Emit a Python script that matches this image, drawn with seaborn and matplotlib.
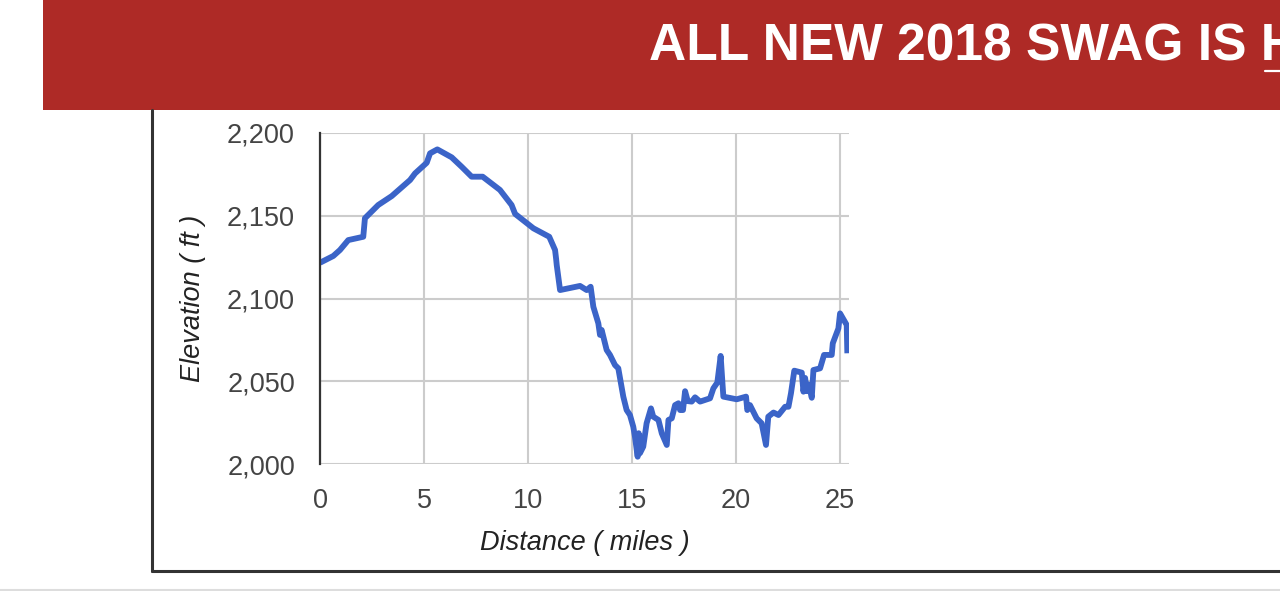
import matplotlib
matplotlib.use("Agg")
import matplotlib.pyplot as plt
import seaborn as sns
import pandas as pd
from matplotlib.patches import Rectangle
from matplotlib.lines import Line2D

# ---- data ----
distance_miles = [0, 0.64, 0.96, 1.36, 2.08, 2.16, 2.8, 3.45, 4.33, 4.57, 5.13, 5.29, 5.64,
                  6.33, 6.81, 7.29, 7.82, 8.65, 9.21, 9.38, 10.26, 11.02, 11.3, 11.35, 11.38,
                  11.54, 12.5, 12.82, 13.01, 13.14, 13.38, 13.46, 13.54, 13.78, 13.94, 14.18,
                  14.34, 14.58, 14.74, 14.9, 15.06, 15.14, 15.27, 15.32, 15.38, 15.54, 15.7,
                  15.91, 16.02, 16.27, 16.43, 16.67, 16.75, 16.91, 17.07, 17.23, 17.31, 17.45,
                  17.55, 17.68, 17.87, 18.03, 18.27, 18.75, 18.91, 19.1, 19.26, 19.39, 20.03,
                  20.48, 20.54, 20.67, 20.99, 21.23, 21.44, 21.55, 21.8, 22.04, 22.36, 22.52,
                  22.64, 22.8, 23.16, 23.24, 23.32, 23.4, 23.5, 23.64, 23.72, 24.04, 24.23,
                  24.6, 24.65, 24.92, 25.0, 25.32, 25.35]
elevation_ft = [2121.6, 2125.7, 2129.3, 2135.3, 2137.3, 2148.5, 2156.5, 2161.9, 2171.6, 2175.6,
                2182.0, 2187.7, 2190.1, 2185.3, 2179.6, 2173.6, 2173.6, 2165.6, 2156.5, 2151.1,
                2142.4, 2137.3, 2129.3, 2124.0, 2120.2, 2105.1, 2107.6, 2105.1, 2107.1, 2095.0,
                2085.0, 2078.0, 2081.0, 2068.9, 2065.9, 2059.8, 2057.8, 2040.7, 2032.6, 2029.6,
                2022.5, 2016.5, 2004.4, 2018.6, 2006.5, 2010.5, 2024.6, 2033.6, 2028.6, 2026.6,
                2018.5, 2011.5, 2026.6, 2027.6, 2035.6, 2036.7, 2032.6, 2032.6, 2044.0, 2038.0,
                2037.7, 2040.3, 2037.7, 2039.7, 2045.7, 2049.2, 2065.3, 2040.7, 2039.1, 2040.7,
                2032.6, 2035.6, 2027.6, 2024.6, 2011.5, 2028.6, 2031.1, 2029.6, 2034.6, 2034.6,
                2042.7, 2056.4, 2055.2, 2043.7, 2052.0, 2044.0, 2048.0, 2040.0, 2056.8, 2057.8,
                2065.9, 2065.9, 2072.9, 2081.9, 2091.0, 2084.0, 2066.9]
x_ticks = [0, 5, 10, 15, 20, 25]
y_ticks = [2000, 2050, 2100, 2150, 2200]
y_tick_labels = ["2,000", "2,050", "2,100", "2,150", "2,200"]
banner_text = "ALL NEW 2018 SWAG IS H"
x_label = "Distance ( miles )"
y_label = "Elevation ( ft )"

df = pd.DataFrame({"distance": distance_miles, "elevation": elevation_ft})

sns.set_theme(style="white")
plt.rcParams["font.family"] = ["Liberation Sans", "DejaVu Sans"]

W, H = 1280, 591
fig = plt.figure(figsize=(W / 100, H / 100), dpi=100)
fig.patch.set_facecolor("white")

def fx(px):
    return px / W

def fy(py):
    return 1 - py / H

# banner
fig.patches.append(Rectangle((fx(43), fy(110)), 1 - fx(43), 110 / H,
                             transform=fig.transFigure, facecolor="#ae2a26",
                             edgecolor="none", zorder=0))
fig.text(fx(649), fy(47), banner_text, color="white", fontsize=37.1, fontweight="bold",
         ha="left", va="center", family=["Liberation Sans", "DejaVu Sans"])
fig.lines.append(Line2D([fx(1265), fx(1280)], [fy(71), fy(71)], transform=fig.transFigure,
                        color="white", lw=1.6))

# frame lines
fig.lines.append(Line2D([fx(152), fx(152)], [fy(110), fy(571)], transform=fig.transFigure,
                        color="#333333", lw=2.2))
fig.lines.append(Line2D([fx(152), fx(1280)], [fy(571), fy(571)], transform=fig.transFigure,
                        color="#333333", lw=2.2))
fig.lines.append(Line2D([0, 1], [fy(589.5), fy(589.5)], transform=fig.transFigure,
                        color="#dddddd", lw=1.5))

# chart axes
ax = fig.add_axes([fx(320), fy(464), (849 - 320) / W, (464 - 133) / H])
ax.set_facecolor("white")
sns.lineplot(data=df, x="distance", y="elevation", ax=ax, sort=False,
             color="#3b64c8", linewidth=4.2, zorder=3)
for line in ax.lines:
    line.set_solid_joinstyle("round")
    line.set_solid_capstyle("butt")

ax.set_xlim(0, 25.43)
ax.set_ylim(2000, 2200)
ax.set_xticks(x_ticks)
ax.set_yticks(y_ticks)
ax.set_yticklabels(y_tick_labels)
ax.grid(True, color="#cccccc", linewidth=1.5)
ax.set_axisbelow(True)
for s in ["top", "right", "bottom"]:
    ax.spines[s].set_visible(False)
ax.spines["left"].set_color("#333333")
ax.spines["left"].set_linewidth(1.6)
ax.spines["left"].set_zorder(4)
ax.tick_params(axis="both", length=0, labelsize=19.5, labelcolor="#444444")
ax.tick_params(axis="y", pad=18)
ax.tick_params(axis="x", pad=17)
ax.set_xlabel(x_label, fontsize=19.5, fontstyle="italic", color="#222222")
ax.set_ylabel(y_label, fontsize=19.5, fontstyle="italic", color="#222222")
ax.xaxis.set_label_coords(0.5, -0.199)
ax.yaxis.set_label_coords(-0.215, 0.5)

fig.savefig("out.png", dpi=100)
